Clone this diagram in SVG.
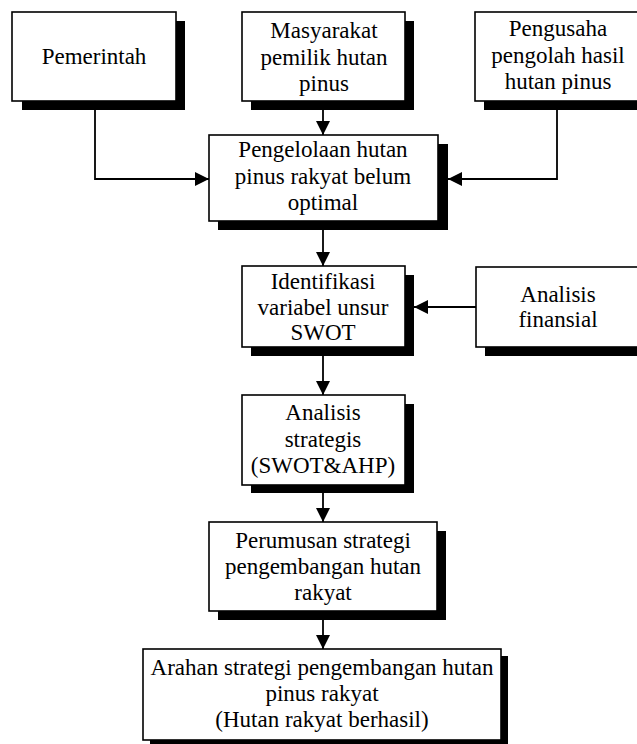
<svg xmlns="http://www.w3.org/2000/svg" width="637" height="744" viewBox="0 0 637 744">
<defs>
<style>
.box{fill:#fff;stroke:#000;stroke-width:1.6}
.sh{fill:#000}
.t{font-family:"Liberation Serif","Times New Roman",serif;font-size:23px;text-anchor:middle;fill:#000}
.ln{fill:none;stroke:#000;stroke-width:1.8}
</style>
<marker id="ah" viewBox="0 0 10 10" refX="10" refY="5" markerWidth="14" markerHeight="14" markerUnits="userSpaceOnUse" orient="auto">
<path d="M0,0 L10,5 L0,10 Z" fill="#000"/>
</marker>
</defs>
<rect width="637" height="744" fill="#fff"/>
<g id="pemerintah">
<rect class="sh" x="22" y="21" width="163" height="89"/>
<rect class="box" x="12" y="12" width="164" height="89"/>
<text class="t" x="94" y="64">Pemerintah</text>
</g>
<g id="masyarakat">
<rect class="sh" x="251" y="21" width="163" height="89"/>
<rect class="box" x="242" y="12" width="163" height="89"/>
<text class="t" x="324" y="38">Masyarakat</text>
<text class="t" x="324" y="65">pemilik hutan</text>
<text class="t" x="324" y="91">pinus</text>
</g>
<g id="pengusaha">
<rect class="sh" x="484" y="21" width="166" height="89"/>
<rect class="box" x="475" y="12" width="166" height="89"/>
<text class="t" x="558" y="36">Pengusaha</text>
<text class="t" x="558" y="63">pengolah hasil</text>
<text class="t" x="558" y="89">hutan pinus</text>
</g>
<g id="pengelolaan">
<rect class="sh" x="218" y="144" width="230" height="86"/>
<rect class="box" x="209" y="135" width="229" height="86"/>
<text class="t" x="323" y="157">Pengelolaan hutan</text>
<text class="t" x="323" y="184">pinus rakyat belum</text>
<text class="t" x="323" y="210">optimal</text>
</g>
<g id="identifikasi">
<rect class="sh" x="251" y="275" width="163" height="81"/>
<rect class="box" x="242" y="266" width="163" height="81"/>
<text class="t" x="323" y="289">Identifikasi</text>
<text class="t" x="323" y="315">variabel unsur</text>
<text class="t" x="323" y="340">SWOT</text>
</g>
<g id="finansial">
<rect class="sh" x="485" y="276" width="166" height="80"/>
<rect class="box" x="476" y="267" width="166" height="80"/>
<text class="t" x="558" y="302">Analisis</text>
<text class="t" x="558" y="327">finansial</text>
</g>
<g id="strategis">
<rect class="sh" x="251" y="404" width="163" height="89"/>
<rect class="box" x="242" y="395" width="163" height="90"/>
<text class="t" x="323" y="420">Analisis</text>
<text class="t" x="323" y="447">strategis</text>
<text class="t" x="323" y="473">(SWOT&amp;AHP)</text>
</g>
<g id="perumusan">
<rect class="sh" x="218" y="531" width="228" height="89"/>
<rect class="box" x="209" y="522" width="228" height="89"/>
<text class="t" x="323" y="548">Perumusan strategi</text>
<text class="t" x="323" y="574">pengembangan hutan</text>
<text class="t" x="323" y="600">rakyat</text>
</g>
<g id="arahan">
<rect class="sh" x="150" y="656" width="358" height="91"/>
<rect class="box" x="143" y="649" width="358" height="91"/>
<text class="t" x="322" y="675">Arahan strategi pengembangan hutan</text>
<text class="t" x="322" y="701">pinus rakyat</text>
<text class="t" x="322" y="727">(Hutan rakyat berhasil)</text>
</g>
<g id="connectors">
<path class="ln" d="M95,110 V179 H209" marker-end="url(#ah)"/>
<path class="ln" d="M557,110 V179 H448" marker-end="url(#ah)"/>
<path class="ln" d="M323,110 V135" marker-end="url(#ah)"/>
<path class="ln" d="M323,230 V266" marker-end="url(#ah)"/>
<path class="ln" d="M476,307 H414" marker-end="url(#ah)"/>
<path class="ln" d="M323,356 V395" marker-end="url(#ah)"/>
<path class="ln" d="M323,493 V522" marker-end="url(#ah)"/>
<path class="ln" d="M323,620 V649" marker-end="url(#ah)"/>
</g>
</svg>
